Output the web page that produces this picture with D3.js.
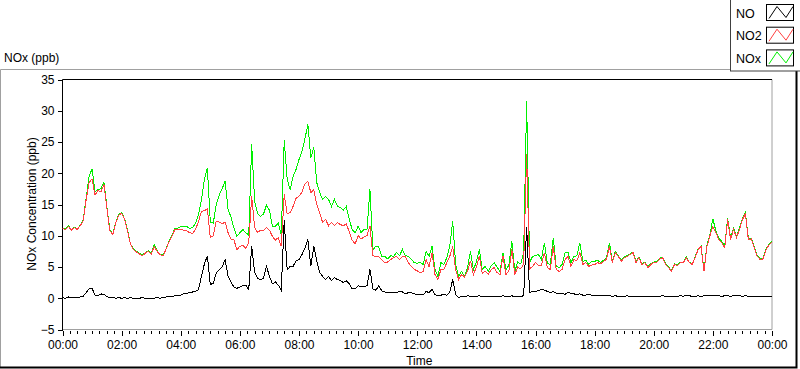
<!DOCTYPE html>
<html>
<head>
<meta charset="utf-8">
<script src="https://cdn.jsdelivr.net/npm/d3@7"></script>
<style>
  body { margin: 0; background: #fff; }
  svg { display: block; font-family: "Liberation Sans", Arial, sans-serif; }
</style>
</head>
<body>
<svg id="chart" width="800" height="369"></svg>
<script>
// readings every 6 minutes (0.1 h), 00:00 -> 24:00
const nox = [
  11.3,11.1,11.6,11.0,11.4,11.1,11.7,12.6,16.0,19.5,
  20.7,17.0,17.4,17.5,18.6,14.7,11.0,10.3,12.1,13.4,
  13.7,12.7,10.9,8.7,7.9,7.5,7.2,6.9,7.3,7.6,
  7.1,8.6,7.6,7.1,6.9,7.9,9.1,10.0,11.2,11.2,
  11.5,11.4,11.5,11.2,11.3,12.0,13.4,15.8,19.0,20.9,
  12.2,12.0,15.0,16.5,17.5,18.8,14.2,13.0,11.2,9.9,
  10.5,11.0,10.5,10.1,24.6,15.5,13.5,13.1,13.5,14.9,
  14.1,11.5,11.5,12.0,10.1,25.3,19.0,17.4,19.5,20.6,
  22.2,23.5,25.5,27.8,22.5,24.1,18.5,16.9,15.8,16.3,
  15.8,14.7,15.8,14.7,14.5,14.1,14.7,12.6,11.0,10.5,
  11.5,10.5,11.0,11.0,17.4,7.8,8.3,8.2,6.7,6.7,
  6.3,6.8,6.7,7.3,6.8,7.8,6.8,6.7,6.2,5.7,
  5.6,5.7,5.4,7.5,6.7,8.3,4.6,3.5,5.7,5.4,
  6.5,8.3,12.3,5.3,3.5,4.3,3.5,4.9,7.5,4.6,
  5.8,7.8,4.6,5.1,4.3,5.2,5.7,5.0,4.3,7.3,
  4.6,5.3,9.1,4.3,5.8,5.5,7.3,31.5,5.7,6.7,
  6.8,7.0,6.2,8.9,5.6,5.4,9.7,5.1,4.9,5.4,
  7.3,7.3,5.7,6.7,6.8,8.9,5.9,6.1,5.4,5.9,
  5.9,6.1,5.7,6.1,6.4,8.9,5.9,7.5,6.8,6.1,
  6.6,6.8,7.1,7.4,5.9,6.6,5.5,5.8,5.1,5.5,
  5.8,5.9,6.4,6.6,5.5,5.0,4.4,5.5,5.3,5.8,
  5.8,6.6,5.8,5.5,6.6,7.9,8.4,4.4,8.5,10.2,
  12.7,10.8,9.6,9.1,8.3,12.8,9.6,11.2,9.9,11.2,
  12.8,13.7,9.6,9.6,8.2,6.8,6.3,6.4,7.9,8.6,
  9.1
];
const no2 = [
  11.2,11.0,11.5,10.9,11.3,11.0,11.6,12.4,15.8,18.5,
  19.1,16.5,17.3,17.0,18.2,14.5,10.8,10.2,12.0,13.3,
  13.6,12.6,10.8,8.6,7.8,7.4,7.1,6.8,7.2,7.5,
  7.0,8.3,7.5,7.0,6.8,7.8,9.0,9.9,11.0,11.0,
  11.0,10.9,10.8,10.5,10.4,11.0,12.3,13.9,14.0,14.3,
  9.7,10.0,12.3,12.2,11.9,12.2,10.5,9.5,9.3,7.8,
  8.3,8.5,8.0,8.9,16.3,11.3,10.5,10.9,10.8,11.3,
  10.9,9.9,9.3,9.7,8.3,16.6,13.5,13.7,14.7,16.0,
  16.3,17.0,18.3,18.7,16.9,17.4,15.0,13.7,12.1,12.6,
  11.6,12.1,11.6,12.1,11.8,11.6,11.9,10.6,9.3,8.7,
  10.0,9.5,9.8,10.0,11.6,6.8,6.7,6.6,6.2,5.7,
  5.8,6.2,6.5,6.7,6.2,6.7,6.7,5.7,5.1,4.6,
  4.4,4.1,4.3,6.2,5.0,7.3,3.8,3.0,4.6,4.6,
  5.7,6.7,8.3,4.5,3.0,3.8,3.4,4.3,6.0,3.8,
  5.0,6.7,4.0,4.3,3.8,4.6,4.9,4.1,3.8,6.7,
  3.8,4.4,7.8,3.8,5.0,4.7,5.5,23.0,4.7,5.1,
  5.7,5.3,5.3,7.3,4.9,4.6,8.3,4.6,4.3,4.6,
  6.2,6.7,5.1,6.2,6.0,7.3,5.4,5.7,5.1,5.3,
  5.4,5.7,5.5,5.9,6.2,8.3,5.7,7.3,6.7,5.9,
  6.5,6.7,7.0,7.3,5.7,6.5,5.4,5.7,4.9,5.4,
  5.7,5.7,6.3,6.5,5.4,4.9,4.3,5.4,5.2,5.7,
  5.7,6.5,5.7,5.4,6.5,7.8,8.3,4.3,8.3,10.0,
  11.5,10.5,9.4,8.9,8.1,12.6,9.4,11.0,9.7,11.0,
  12.6,13.5,9.4,9.5,8.1,6.7,6.2,6.3,7.8,8.5,
  9.0
];
const no = [
  0.1,0.0,0.2,0.1,0.2,0.1,0.2,0.3,0.9,1.5,
  1.6,0.5,0.4,0.7,0.6,0.3,0.1,0.1,0.0,0.1,
  0.0,0.1,0.0,0.1,0.0,-0.1,0.0,0.1,0.0,-0.1,
  -0.1,0.0,0.1,0.0,0.1,0.2,0.3,0.3,0.4,0.4,
  0.5,0.7,0.8,0.9,1.0,1.1,1.4,3.5,5.5,6.8,
  2.2,2.4,4.0,4.6,5.0,6.2,3.5,2.6,1.8,1.6,
  1.8,2.0,2.1,1.4,8.3,4.1,3.2,3.0,3.2,5.1,
  3.5,2.3,2.6,2.1,1.3,12.5,4.5,5.1,5.1,6.0,
  6.2,7.0,8.0,9.4,5.1,8.3,6.0,4.1,3.5,3.0,
  3.5,2.8,3.3,3.0,2.8,2.5,2.8,2.3,1.5,1.5,
  2.0,1.8,1.9,2.0,4.6,1.5,1.3,2.0,1.2,1.0,
  1.0,1.0,1.0,0.9,1.1,1.0,0.7,0.9,0.9,0.7,
  0.6,0.6,0.5,1.1,0.9,1.4,0.6,0.4,0.5,0.6,
  0.5,1.0,3.0,0.6,0.1,0.3,0.2,0.4,0.3,0.2,
  0.3,0.4,0.2,0.3,0.2,0.3,0.3,0.2,0.3,0.4,
  0.3,0.3,0.4,0.2,0.3,0.3,0.4,11.4,0.9,1.1,
  1.1,1.2,1.4,1.3,1.1,0.9,1.1,0.8,0.7,0.8,
  0.6,1.0,0.8,0.7,0.6,0.7,0.5,0.5,0.6,0.5,
  0.5,0.4,0.5,0.4,0.5,0.4,0.3,0.4,0.3,0.3,
  0.3,0.4,0.3,0.3,0.2,0.3,0.3,0.2,0.3,0.2,
  0.3,0.2,0.3,0.4,0.3,0.2,0.3,0.2,0.3,0.4,
  0.3,0.5,0.4,0.3,0.3,0.4,0.3,0.4,0.5,0.4,
  0.4,0.5,0.4,0.3,0.4,0.4,0.3,0.4,0.5,0.4,
  0.3,0.4,0.3,0.3,0.2,0.3,0.3,0.2,0.3,0.3,
  0.3
];
const timeLabels = ["00:00","02:00","04:00","06:00","08:00","10:00","12:00",
                    "14:00","16:00","18:00","20:00","22:00","00:00"];
const yTicks = [-5, 0, 5, 10, 15, 20, 25, 30, 35];
const seriesNames = ["NO", "NO2", "NOx"];
const seriesColors = ["#000000", "#ff4040", "#00f000"];

const svg = d3.select("#chart");
const plot = { left: 62.5, right: 772, top: 79.5, bottom: 329.5 };

const x = d3.scaleLinear().domain([0, 24]).range([plot.left, plot.right]);
const y = d3.scaleLinear().domain([-5, 35]).range([plot.bottom, plot.top]);
const hourOf = (i) => i / 10;

// outer panel
svg.append("path")
  .attr("d", "M0.5,368 V69.5 H730")
  .attr("fill", "none").attr("stroke", "#a0a0a0");
svg.append("path")
  .attr("d", "M0,367.5 H796.5 V69")
  .attr("fill", "none").attr("stroke", "#000").attr("stroke-width", 2);

svg.append("text")
  .attr("x", 4).attr("y", 62)
  .attr("font-size", 12)
  .text("NOx (ppb)");

// plot background + frame
svg.append("rect")
  .attr("x", plot.left).attr("y", plot.top)
  .attr("width", plot.right - plot.left).attr("height", plot.bottom - plot.top)
  .attr("fill", "#fff");
svg.append("path")
  .attr("d", `M${plot.left},${plot.bottom} H${plot.right} V${plot.top}`)
  .attr("fill", "none").attr("stroke", "#a0a0a0");
svg.append("path")
  .attr("d", `M${plot.left},${plot.bottom + 0.5} V${plot.top} H${plot.right}`)
  .attr("fill", "none").attr("stroke", "#000");

// axes
const gx = svg.append("g")
  .attr("transform", `translate(0,${plot.bottom + 1})`)
  .call(d3.axisBottom(x)
    .tickValues(d3.range(0, 24.01, 0.25).filter((d) => d % 2 !== 0))
    .tickSize(3).tickFormat(""));
gx.select(".domain").remove();

const gx2 = svg.append("g")
  .attr("transform", `translate(0,${plot.bottom + 1})`)
  .call(d3.axisBottom(x)
    .tickValues(d3.range(0, 25, 2))
    .tickSize(5).tickPadding(5)
    .tickFormat((d) => timeLabels[d / 2]));
gx2.select(".domain").remove();

const gy = svg.append("g")
  .attr("transform", `translate(${plot.left},0)`)
  .call(d3.axisLeft(y).tickValues(yTicks).tickSize(5).tickPadding(3));
gy.select(".domain").remove();

svg.selectAll(".tick text")
  .attr("font-family", '"Liberation Sans", Arial, sans-serif')
  .attr("font-size", 12).attr("fill", "#000");
svg.selectAll(".tick line").attr("stroke", "#000").attr("shape-rendering", "crispEdges");

svg.append("text")
  .attr("x", (plot.left + plot.right) / 2 + 2).attr("y", 365)
  .attr("text-anchor", "middle").attr("font-size", 12)
  .text("Time");
svg.append("text")
  .attr("transform", "translate(36,204) rotate(-90)")
  .attr("text-anchor", "middle").attr("font-size", 12)
  .text("NOx Concentration (ppb)");

// lines
const line = d3.line()
  .x((d, i) => x(hourOf(i)))
  .y((d) => y(d));
const clip = svg.append("clipPath").attr("id", "clip")
  .append("rect")
  .attr("x", plot.left).attr("y", plot.top)
  .attr("width", plot.right - plot.left).attr("height", plot.bottom - plot.top);
const lines = svg.append("g").attr("clip-path", "url(#clip)");
[[nox, seriesColors[2]], [no2, seriesColors[1]], [no, seriesColors[0]]].forEach(([s, c]) => {
  lines.append("path")
    .datum(s)
    .attr("d", line)
    .attr("fill", "none")
    .attr("stroke", c)
    .attr("stroke-width", 1)
    .attr("shape-rendering", "crispEdges");
});

// legend
const lg = svg.append("g");
lg.append("rect")
  .attr("x", 730.5).attr("y", -1).attr("width", 70).attr("height", 72)
  .attr("fill", "#fff").attr("stroke", "#404040");
seriesNames.forEach((name, i) => {
  const top = 4.5 + i * 22.7;
  lg.append("text")
    .attr("x", 736).attr("y", top + 13)
    .attr("font-size", 12.5)
    .text(name);
  lg.append("rect")
    .attr("x", 766.5).attr("y", top).attr("width", 27).attr("height", 16)
    .attr("fill", "#fff").attr("stroke", "#000");
  lg.append("path")
    .attr("d", `M769,${top + 14} L777,${top + 2} L786,${top + 13} L793,${top + 2}`)
    .attr("fill", "none").attr("stroke", seriesColors[i]);
});
</script>
</body>
</html>
